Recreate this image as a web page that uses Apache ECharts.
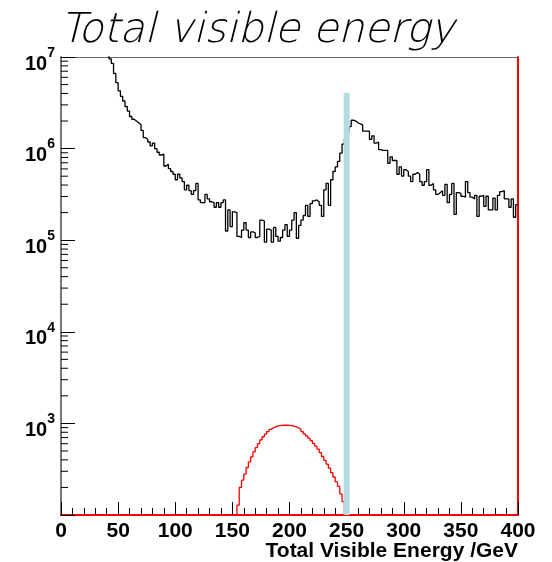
<!DOCTYPE html>
<html>
<head>
<meta charset="utf-8">
<script src="https://cdn.jsdelivr.net/npm/echarts@6/dist/echarts.min.js"></script>
<style>
html,body{margin:0;padding:0;background:#fff;}
#chart{width:552px;height:562px;}
</style>
</head>
<body>
<div id="chart"></div>
<script>
// ---------------- data ----------------
const TITLE = 'Total visible energy';
const X_TITLE = 'Total Visible Energy /GeV';
const BIN_WIDTH = 2;                 // GeV per bin
const X_MIN = 0, X_MAX = 400, X_STEP = 50;
const Y_MIN = 1e2, Y_MAX = 1e7;
const yExponents = [2, 3, 4, 5, 6, 7];

// background (black histogram), bins starting at 36 GeV
const BG_FIRST_BIN = 36;
const bgCounts = [
  14100000, 12300000, 10700000, 9550000, 8510000, 6610000, 5250000, 4270000, 3720000, 3310000,
  2880000, 2570000, 2240000, 2090000, 2000000, 1910000, 1820000, 1580000, 1320000, 1260000,
  1180000, 1070000, 1150000, 1000000, 912000, 851000, 871000, 646000, 676000, 603000,
  562000, 525000, 457000, 525000, 479000, 437000, 355000, 398000, 347000, 316000,
  347000, 417000, 275000, 257000, 257000, 316000, 282000, 263000, 257000, 229000,
  257000, 229000, 257000, 275000, 126000, 214000, 141000, 204000, 200000, 110000,
  107000, 129000, 155000, 129000, 107000, 123000, 120000, 107000, 110000, 166000,
  162000, 95500, 132000, 129000, 95500, 138000, 110000, 97700, 107000, 129000,
  148000, 110000, 129000, 166000, 200000, 105000, 145000, 166000, 186000, 240000,
  182000, 251000, 269000, 275000, 263000, 240000, 182000, 355000, 417000, 240000,
  457000, 562000, 631000, 724000, 891000, 1120000, 1260000, 1510000, 1740000, 2040000,
  2000000, 1910000, 1860000, 1820000, 1550000, 1550000, 1550000, 1260000, 1380000, 1150000,
  1180000, 977000, 955000, 955000, 955000, 692000, 813000, 741000, 741000, 525000,
  631000, 501000, 589000, 562000, 501000, 437000, 525000, 550000, 525000, 437000,
  398000, 437000, 589000, 398000, 417000, 355000, 316000, 331000, 347000, 309000,
  407000, 257000, 316000, 417000, 191000, 331000, 324000, 302000, 295000, 437000,
  331000, 295000, 282000, 309000, 182000, 302000, 309000, 234000, 302000, 214000,
  214000, 288000, 214000, 309000, 339000, 347000, 282000, 282000, 229000, 282000,
  178000, 245000
];

// signal (red histogram), bins starting at 154 GeV
const SIG_FIRST_BIN = 154;
const sigCounts = [
  128, 200, 240, 280, 330, 380, 430, 490, 545, 600,
  660, 715, 765, 815, 860, 895, 920, 940, 948, 950,
  955, 955, 950, 945, 935, 915, 895, 860, 815, 770,
  730, 690, 650, 605, 565, 525, 480, 435, 395, 360,
  325, 290, 260, 230, 205, 170, 140
];
const EMPTY_BIN = 1; // stands for an empty bin (below the axis range)

// cut marker (light blue bar)
const markerEnergy = [250];
const markerHeight = [4070000];

// ---------------- helpers ----------------
function stepData(first, counts, closeToBase) {
  const d = [];
  if (closeToBase) d.push([first, EMPTY_BIN]);
  counts.forEach((c, i) => d.push([first + i * BIN_WIDTH, c]));
  const end = first + counts.length * BIN_WIDTH;
  d.push([end, counts[counts.length - 1]]);
  if (closeToBase) d.push([end, EMPTY_BIN]);
  return d;
}
const minorTickValues = [];
yExponents.slice(0, -1).forEach(e => {
  for (let m = 2; m <= 9; m++) minorTickValues.push([m * Math.pow(10, e)]);
});

const chart = echarts.init(document.getElementById('chart'));
const GRID = {left: 61, right: 34, top: 57, bottom: 47};

chart.setOption({
  animation: false,
  backgroundColor: '#fff',
  title: {
    text: TITLE, left: 55, top: 6,
    textStyle: {fontFamily: "'DejaVu Sans ExtraLight', 'DejaVu Sans Light', 'DejaVu Sans'", fontStyle: 'italic', fontWeight: 200, fontSize: 41, color: '#000'}
  },
  grid: GRID,
  xAxis: [{
    type: 'value', min: X_MIN, max: X_MAX, interval: X_STEP,
    axisLine: {show: true, onZero: false, lineStyle: {color: '#ff0000', width: 2}},
    axisTick: {show: true, inside: true, length: 13, lineStyle: {color: '#000', width: 1}},
    minorTick: {show: true, splitNumber: 5, length: 7, lineStyle: {color: '#000', width: 1}},
    splitLine: {show: false},
    axisLabel: {margin: 6, fontFamily: 'Liberation Sans', fontWeight: 'bold', fontSize: 21, color: '#000'}
  }, {
    type: 'value', position: 'top', min: X_MIN, max: X_MAX,
    axisLine: {show: true, onZero: false, lineStyle: {color: '#666', width: 1}},
    axisTick: {show: false}, axisLabel: {show: false}, splitLine: {show: false}
  }],
  yAxis: [{
    type: 'log', logBase: 10, min: Y_MIN, max: Y_MAX,
    axisLine: {show: true, onZero: false, lineStyle: {color: '#777', width: 2}},
    axisTick: {show: true, inside: true, length: 14, lineStyle: {color: '#000', width: 1}},
    splitLine: {show: false},
    axisLabel: {
      margin: 6,
      formatter: v => {
        const e = Math.round(Math.log10(v));
        if (e === yExponents[0]) return '';
        return '{b|10}{s|' + e + '}';
      },
      rich: {
        b: {fontFamily: 'Liberation Sans', fontWeight: 'bold', fontSize: 20, color: '#000', padding: [14, 0, 0, 0]},
        s: {fontFamily: 'Liberation Sans', fontWeight: 'bold', fontSize: 14, color: '#000', padding: [0, 0, 8, 0]}
      }
    }
  }, {
    type: 'value', position: 'right', min: 0, max: 1,
    axisLine: {show: true, onZero: false, lineStyle: {color: '#ff0000', width: 2}},
    axisTick: {show: false}, axisLabel: {show: false}, splitLine: {show: false}
  }],
  graphic: [{
    type: 'text', right: 34, top: 541,
    style: {text: X_TITLE, fontFamily: 'Liberation Sans', fontWeight: 'bold', fontSize: 21, fill: '#000'}
  }],
  series: [
    {
      type: 'line', name: 'background', step: 'end', symbol: 'none', clip: true,
      data: stepData(BG_FIRST_BIN, bgCounts, false),
      lineStyle: {color: '#000', width: 1.3}, z: 3
    },
    {
      type: 'line', name: 'signal', step: 'end', symbol: 'none', clip: true,
      data: stepData(SIG_FIRST_BIN, sigCounts, true),
      lineStyle: {color: '#ff0000', width: 1.3}, z: 3
    },
    {
      type: 'bar', name: 'cut', barWidth: 6, clip: true,
      data: markerEnergy.map((e, i) => [e, markerHeight[i]]),
      itemStyle: {color: '#b3dde3'}, z: 5
    },
    {
      type: 'custom', name: 'yMinorTicks', silent: true, clip: false,
      data: minorTickValues,
      encode: {y: 0},
      renderItem: (params, api) => {
        const p = api.coord([X_MIN, api.value(0)]);
        return {type: 'line', shape: {x1: p[0], y1: p[1], x2: p[0] + 7, y2: p[1]},
          style: {stroke: '#000', lineWidth: 1}};
      },
      z: 4
    }
  ]
});
</script>
</body>
</html>
